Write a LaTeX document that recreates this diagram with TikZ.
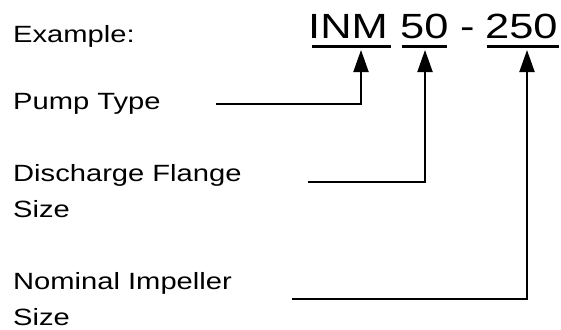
\documentclass[tikz,border=0pt]{standalone}
\usepackage{fontspec}
\setmainfont{Liberation Sans}[FakeStretch=1.24]
\usetikzlibrary{arrows.meta}

\begin{document}
\begin{tikzpicture}[x=1pt,y=-1pt]
    \tikzstyle{every node}+=[inner sep=0pt, anchor=base west]
    \tikzstyle{lbl}=[font=\fontsize{23.5}{36}\selectfont, align=left]
    \tikzstyle{code}=[font=\fontsize{35}{42}\selectfont]
    \tikzstyle{uline}=[line width=3pt]
    \tikzstyle{lead}=[line width=2pt, -{Triangle[length=22pt,width=15pt]}]
    \useasboundingbox (0,0) rectangle (561,329);
    % labels on the left (base = last line)
    \node [lbl] (ex) at (13,42) {Example:};
    \node [lbl] (pump) at (13,109) {Pump Type};
    \node [lbl] (flange) at (13,217) {Discharge Flange\\Size};
    \node [lbl] (imp) at (13,325) {Nominal Impeller\\Size};
    % the model code
    \node [code] (inm) at (308,38) {INM};
    \node [code] (fifty) at (400,38) {50};
    \node [code] (dash) at (460,38) {-};
    \node [code] (twofifty) at (485,38) {250};
    \draw [uline] (312,47) -- (391,47);
    \draw [uline] (402,47) -- (447,47);
    \draw [uline] (487,47) -- (559,47);
    % leaders
    \coordinate (pump-end) at (216,104);
    \coordinate (flange-end) at (308,182);
    \coordinate (imp-end) at (292,299);
    \coordinate (inm-tip) at (361,50);
    \coordinate (fifty-tip) at (425,50);
    \coordinate (twofifty-tip) at (527,50);
    \draw [lead] (pump-end) -| (inm-tip);
    \draw [lead] (flange-end) -| (fifty-tip);
    \draw [lead] (imp-end) -| (twofifty-tip);
\end{tikzpicture}
\end{document}
